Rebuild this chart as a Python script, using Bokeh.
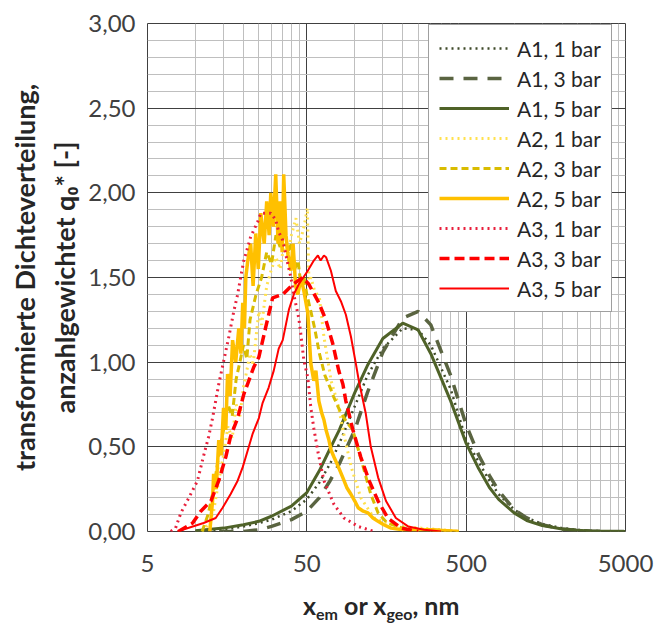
from bokeh.plotting import figure
from bokeh.models import FixedTicker, CustomJSTickFormatter, Legend, Title, Div
from bokeh.layouts import column
from bokeh.embed import file_html
from bokeh.resources import INLINE

# ---------------- data ----------------
A1_x = [10, 15, 20, 25, 30, 40, 50, 60, 70, 80, 100, 120, 150, 200, 250, 300, 400, 500,
        600, 700, 800, 1000, 1200, 1500, 2000, 2500, 3000, 4000, 5000]
A1_1bar = [0.0, 0.01, 0.03, 0.05, 0.07, 0.12, 0.19, 0.29, 0.40, 0.52, 0.74, 0.92, 1.08, 1.20, 1.19,
           1.10, 0.84, 0.54, 0.41, 0.30, 0.22, 0.13, 0.08, 0.045, 0.02, 0.01, 0.004, 0.001, 0.0]
A1_3bar = [0.0, 0.0, 0.0, 0.01, 0.03, 0.07, 0.12, 0.20, 0.30, 0.40, 0.60, 0.82, 1.06, 1.26, 1.30,
           1.22, 0.92, 0.63, 0.45, 0.33, 0.24, 0.13, 0.08, 0.04, 0.015, 0.006, 0.003, 0.001, 0.0]
A1_5bar = [0.005, 0.02, 0.04, 0.06, 0.09, 0.15, 0.23, 0.36, 0.49, 0.60, 0.82, 0.98, 1.14, 1.23, 1.19,
           1.05, 0.77, 0.52, 0.37, 0.26, 0.19, 0.11, 0.065, 0.035, 0.015, 0.007, 0.003, 0.001, 0.0]

A2_1bar_x = [11, 12, 13, 14, 15, 16, 17, 18, 19, 20, 21, 22, 23, 24, 25, 26, 28, 30, 32, 34, 36, 38,
             40, 42.7, 45, 48, 50.4, 51.5, 53, 56, 60, 64, 68, 71, 78, 86, 95, 109, 132, 161, 200,
             260, 350, 450]
A2_1bar = [0.0, 0.04, 0.12, 0.30, 0.45, 0.62, 0.55, 0.75, 0.68, 0.85, 0.95, 1.05, 0.98, 1.15, 1.30,
           1.22, 1.45, 1.55, 1.62, 1.55, 1.70, 1.62, 1.75, 1.85, 1.70, 1.80, 1.91, 1.48, 1.50, 1.42,
           1.38, 1.15, 1.00, 0.89, 0.76, 0.56, 0.38, 0.20, 0.08, 0.05, 0.03, 0.02, 0.01, 0.0]
A2_3bar_x = [11, 12, 13, 14, 15, 16, 17, 18, 19, 20, 21, 22, 24, 26, 28, 30, 32, 34, 36, 38, 40, 42,
             44, 46, 48, 50, 53, 56, 60, 65, 70, 74, 80, 87, 97, 110, 126, 140, 160, 200, 300, 450]
A2_3bar = [0.0, 0.10, 0.25, 0.45, 0.60, 0.75, 0.68, 0.90, 1.00, 1.10, 1.02, 1.25, 1.40, 1.50, 1.65,
           1.58, 1.75, 1.68, 1.80, 1.65, 1.70, 1.55, 1.60, 1.45, 1.50, 1.40, 1.30, 1.20, 1.05, 0.92,
           0.85, 0.79, 0.72, 0.66, 0.60, 0.42, 0.22, 0.11, 0.05, 0.02, 0.01, 0.0]
A2_5bar_x = [12.3, 12.8, 13.0, 13.5, 14.0, 14.5, 15.0, 15.5, 15.9, 16.5, 17.1, 17.9, 18.7, 19.3, 19.8,
             20.3, 20.7, 21.3, 22.2, 23.0, 23.9, 24.8, 25.7, 27, 28, 29, 29.7, 30.8, 31.9, 33, 34,
             35, 35.8, 37, 38, 39.7, 41, 42.5, 43.9, 46, 47.9, 50.7, 53, 55.3, 57, 59.5, 62, 64, 66,
             68.8, 71, 74, 79, 84, 89, 94.6, 100, 105, 113, 121, 130, 140, 152, 169, 200, 300, 450]
A2_5bar = [0.0, 0.18, 0.34, 0.25, 0.54, 0.45, 0.73, 0.60, 0.93, 0.80, 1.13, 1.00, 1.20, 1.05, 1.35,
           1.20, 1.50, 1.60, 1.70, 1.45, 1.76, 1.55, 1.88, 1.70, 1.95, 1.75, 2.00, 1.80, 2.11, 1.70,
           1.95, 1.65, 2.11, 1.75, 1.64, 1.54, 1.70, 1.45, 1.40, 1.50, 1.42, 1.29, 0.99, 0.89, 0.95,
           0.77, 0.70, 0.66, 0.60, 0.54, 0.48, 0.44, 0.38, 0.32, 0.26, 0.22, 0.18, 0.14, 0.12, 0.11,
           0.08, 0.06, 0.04, 0.02, 0.01, 0.01, 0.0]

A3_1bar_x = [7.0, 7.5, 8.1, 9.1, 10.3, 11.2, 12.1, 12.8, 14.0, 16.2, 17.4, 18.4, 19.2, 20.1, 21.3,
             22.2, 24.6, 25.7, 29.7, 31.9, 33.3, 35.3, 38.0, 39.7, 41.4, 44.5, 45.8, 47.9, 50.7,
             53.0, 55.3, 58.7, 64.0, 74.0, 85.5, 105, 132]
A3_1bar = [0.0, 0.02, 0.11, 0.20, 0.30, 0.44, 0.56, 0.67, 0.87, 1.15, 1.30, 1.40, 1.50, 1.60, 1.68,
           1.74, 1.83, 1.88, 1.88, 1.84, 1.77, 1.72, 1.58, 1.50, 1.40, 1.26, 1.17, 1.01, 0.91, 0.73,
           0.61, 0.47, 0.30, 0.16, 0.08, 0.03, 0.0]
A3_3bar_x = [7.8, 9.6, 10.8, 12.5, 14.0, 15.5, 16.6, 18.4, 20.1, 21.6, 23.2, 25.0, 27.5, 30.5, 35.3,
             40.9, 47.0, 51.5, 59.5, 65.8, 72.7, 79.3, 84.2, 87.9, 97.3, 109, 123, 140, 161, 195, 250]
A3_3bar = [0.0, 0.05, 0.12, 0.18, 0.30, 0.44, 0.56, 0.67, 0.81, 0.89, 0.97, 1.03, 1.20, 1.38, 1.40,
           1.46, 1.50, 1.46, 1.35, 1.25, 1.11, 0.95, 0.87, 0.77, 0.60, 0.44, 0.30, 0.18, 0.08, 0.02,
           0.0]
A3_5bar_x = [7.7, 11.25, 13.4, 14.8, 16.6, 18.4, 19.8, 21.3, 22.9, 25.0, 26.4, 28.8, 31.0, 33.3, 35.3,
             38.6, 41.4, 44.5, 50.7, 55.3, 58.7, 61, 64, 66, 70.8, 76, 81.8, 87.9, 94.6, 101.6, 106,
             117, 126, 140, 157, 181, 216, 272, 348]
A3_5bar = [0.0, 0.05, 0.08, 0.14, 0.22, 0.30, 0.38, 0.48, 0.58, 0.67, 0.76, 0.85, 0.95, 1.08, 1.13,
           1.31, 1.40, 1.46, 1.54, 1.60, 1.63, 1.60, 1.63, 1.62, 1.54, 1.42, 1.36, 1.28, 1.15, 0.99,
           0.89, 0.70, 0.50, 0.32, 0.18, 0.08, 0.03, 0.01, 0.0]

x_major = [5, 50, 500, 5000]
y_major = [0.0, 0.5, 1.0, 1.5, 2.0, 2.5, 3.0]
series_names = ["A1, 1 bar", "A1, 3 bar", "A1, 5 bar", "A2, 1 bar", "A2, 3 bar", "A2, 5 bar",
                "A3, 1 bar", "A3, 3 bar", "A3, 5 bar"]
y_title_lines = ["transformierte Dichteverteilung,", "anzahlgewichtet q\u2080* [-]"]

FONT = "Lato"
TXT = "#262626"
W = 654
MAIN_H = 584
LABEL_H = 40

# ---------------- main figure ----------------
p = figure(width=W, height=MAIN_H, x_axis_type="log", x_range=(5, 5000), y_range=(0, 3),
           output_backend="svg", toolbar_location=None,
           min_border_left=147, min_border_right=W - 625, min_border_top=23,
           min_border_bottom=MAIN_H - 531)
p.background_fill_color = "white"
p.border_fill_color = "white"
p.outline_line_color = "#404040"
p.outline_line_width = 1

x_minor = [m * d for d in (5, 50, 500) for m in range(2, 10)]
y_minor = [round(i * 0.1, 1) for i in range(1, 30) if i % 5]
p.xaxis.ticker = FixedTicker(ticks=x_major, minor_ticks=x_minor)
p.yaxis.ticker = FixedTicker(ticks=y_major, minor_ticks=y_minor)
p.xaxis.formatter = CustomJSTickFormatter(code="return String(Math.round(tick));")
p.yaxis.formatter = CustomJSTickFormatter(code="return tick.toFixed(2).replace('.', ',');")

for ax in (p.xaxis, p.yaxis):
    ax.axis_line_color = None
    ax.major_tick_line_color = None
    ax.minor_tick_line_color = None
    ax.major_tick_out = 0
    ax.major_tick_in = 0
    ax.minor_tick_out = 0
    ax.minor_tick_in = 0
    ax.major_label_text_font = FONT
    ax.major_label_text_font_size = "24px"
    ax.major_label_text_color = "#404040"
p.xaxis.major_label_standoff = 23
p.yaxis.major_label_standoff = 12

for g in (p.xgrid, p.ygrid):
    g.grid_line_color = "#404040"
    g.grid_line_width = 1
    g.minor_grid_line_color = "#BFBFBF"
    g.minor_grid_line_width = 1

# y-axis title: two vertical lines in the left panel (inner line first)
for i, txt in enumerate(reversed(y_title_lines)):
    t = Title(text=txt, align="center", text_font=FONT, text_font_size="27px",
              text_font_style="bold", text_color=TXT, standoff=10 if i == 0 else 0)
    p.add_layout(t, "left")

olive = "#4F6228"
r = []
r.append(p.line(A1_x, A1_1bar, line_color="#3F4A2A", line_width=2.5, line_dash="2 4"))
r.append(p.line(A1_x, A1_3bar, line_color="#5A6441", line_width=3.5, line_dash="14 10"))
r.append(p.line(A1_x, A1_5bar, line_color=olive, line_width=3))
r.append(p.line(A2_1bar_x, A2_1bar, line_color="#FFE14F", line_width=3, line_dash="2 4"))
r.append(p.line(A2_3bar_x, A2_3bar, line_color="#D9BC00", line_width=3, line_dash="7 4"))
r.append(p.line(A2_5bar_x, A2_5bar, line_color="#FFC000", line_width=3.5))
r.append(p.line(A3_1bar_x, A3_1bar, line_color="#E8203C", line_width=3, line_dash="2 4"))
r.append(p.line(A3_3bar_x, A3_3bar, line_color="#FF0000", line_width=3.5, line_dash="10 5"))
r.append(p.line(A3_5bar_x, A3_5bar, line_color="#FF0000", line_width=2))

legend = Legend(items=[(n, [g]) for n, g in zip(series_names, r)], location=(281, 219))
legend.label_text_font = FONT
legend.label_text_font_size = "21px"
legend.label_text_color = TXT
legend.border_line_color = "#404040"
legend.border_line_width = 1
legend.background_fill_color = "white"
legend.background_fill_alpha = 1.0
legend.glyph_width = 70
legend.glyph_height = 26
legend.label_height = 26
legend.label_standoff = 8
legend.spacing = 4
legend.padding = 10
legend.margin = 0
p.add_layout(legend)

# x-axis title with real subscripts, as text below the chart
xlabel_html = (
    '<div style="position:relative; left:303px; top:6px; white-space:nowrap; '
    'font-family:Lato; font-weight:bold; font-size:25px; line-height:30px; color:#262626;">'
    'x<span style="position:relative; top:5px; font-size:16px;">em</span> or '
    'x<span style="position:relative; top:5px; font-size:16px;">geo</span>, nm</div>'
)
xlabel = Div(text=xlabel_html, width=W, height=LABEL_H, margin=0)

layout = column(p, xlabel, spacing=0)
open("out.html", "w").write(file_html(layout, INLINE))
